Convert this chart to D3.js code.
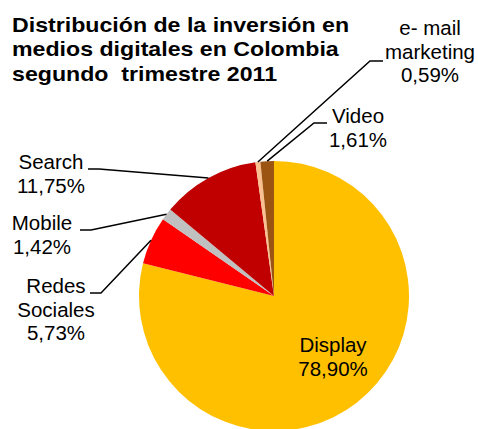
<!DOCTYPE html>
<html>
<head>
<meta charset="utf-8">
<script src="https://cdn.jsdelivr.net/npm/d3@7"></script>
<style>
  body { margin: 0; background: #fff; }
  text { font-family: "Liberation Sans", Arial, sans-serif; white-space: pre; }
</style>
</head>
<body>
<div id="chart"></div>
<script>
var width = 478, height = 429;

var titleLines = ["Distribución de la inversión en", "medios digitales en Colombia", "segundo  trimestre 2011"];
var categories = ["Display", "Redes Sociales", "Mobile", "Search", "e- mail marketing", "Video"];
var values = [78.90, 5.73, 1.42, 11.75, 0.59, 1.61];
var valueLabels = ["78,90%", "5,73%", "1,42%", "11,75%", "0,59%", "1,61%"];
var colors = ["#FFC000", "#FF0000", "#C0C0C0", "#C00000", "#FAC090", "#9C5412"];

// label text lines and placement (x = text centre, y = first baseline)
var labelLines = [["Display"], ["Redes", "Sociales"], ["Mobile"], ["Search"], ["e- mail", "marketing"], ["Video"]];
var labelPos = [
  {x: 333, y: 352, inside: true},
  {x: 56, y: 293, lx: 90, side: "left"},
  {x: 42, y: 230, lx: 80, side: "left"},
  {x: 51, y: 169, lx: 88, side: "left"},
  {x: 430, y: 35, lx: 383, ly: 61, side: "right"},
  {x: 358, y: 123, lx: 327, side: "right"}
];

var cx = 274, cy = 296, r = 135;
var fontSize = 20.5, lineH = 23.5;

var svg = d3.select("#chart").append("svg")
    .attr("width", width)
    .attr("height", height);

svg.append("text")
    .attr("transform", "translate(12,31.5) scale(1.13,1)")
    .attr("font-size", 20.5)
    .attr("font-weight", "bold")
    .selectAll("tspan")
    .data(titleLines)
    .enter().append("tspan")
    .attr("x", 0)
    .attr("y", function(d, i) { return i * 25; })
    .text(function(d) { return d; });

var pie = d3.pie().sort(null).value(function(d) { return d; });
var arcs = pie(values);

var arc = d3.arc().innerRadius(0).outerRadius(r);

var g = svg.append("g").attr("transform", "translate(" + cx + "," + cy + ")");

g.selectAll("path")
    .data(arcs)
    .enter().append("path")
    .attr("d", arc)
    .attr("fill", function(d, i) { return colors[i]; });

// leader lines
arcs.forEach(function(d, i) {
  var p = labelPos[i];
  if (p.inside) return;
  var a = (d.startAngle + d.endAngle) / 2;
  var ex = cx + r * Math.sin(a), ey = cy - r * Math.cos(a);
  var ly = p.ly !== undefined ? p.ly : p.y;
  var bx = p.side == "left" ? p.lx + 11 : p.lx - 13;
  svg.append("polyline")
      .attr("points", [[ex, ey], [bx, ly], [p.lx, ly]].map(function(q) { return q.join(","); }).join(" "))
      .attr("fill", "none")
      .attr("stroke", "#000")
      .attr("stroke-width", 1.5);
});

// labels
arcs.forEach(function(d, i) {
  var p = labelPos[i];
  var lines = labelLines[i].concat([valueLabels[i]]);
  svg.append("text")
      .attr("text-anchor", "middle")
      .attr("font-size", fontSize)
      .attr("fill", "#000")
      .selectAll("tspan")
      .data(lines)
      .enter().append("tspan")
      .attr("x", p.x)
      .attr("y", function(t, j) { return p.y + j * lineH; })
      .text(function(t) { return t; });
});
</script>
</body>
</html>
